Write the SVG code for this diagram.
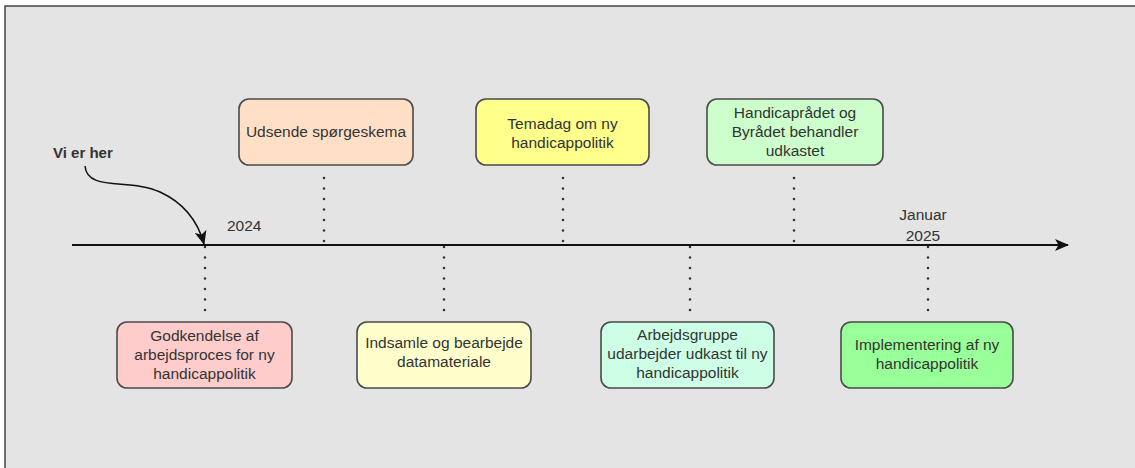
<svg xmlns="http://www.w3.org/2000/svg" width="1135" height="468" viewBox="0 0 1135 468">
  <defs>
    <marker id="arrow" viewBox="0 0 14 12" refX="13" refY="6" markerWidth="14" markerHeight="12" markerUnits="userSpaceOnUse" orient="auto">
      <path d="M0,0 L14,6 L0,12 L3.5,6 Z" fill="#111"/>
    </marker>
    <marker id="arrow2" viewBox="0 0 14 12" refX="13" refY="6" markerWidth="14" markerHeight="12" markerUnits="userSpaceOnUse" orient="auto">
      <path d="M0,0 L14,6 L0,12 L3.5,6 Z" fill="#111"/>
    </marker>
  </defs>
  <style>
    .box { stroke: #4a4a4a; stroke-width: 1.6; }
    .lbl { font-family: "Liberation Sans", Arial, sans-serif; font-size: 15.5px; fill: #333; text-anchor: middle; }
    .dot { fill: none; stroke: #333; stroke-width: 2.6; stroke-linecap: round; stroke-dasharray: 0 10.5; }
  </style>
  <rect x="0" y="0" width="1135" height="468" fill="#ffffff"/>
  <rect x="5" y="6" width="1140" height="470" fill="#e4e4e4" stroke="#444" stroke-width="1.5"/>

  <g id="connectors">
    <line x1="72" y1="245" x2="1068" y2="245" stroke="#111" stroke-width="1.8" marker-end="url(#arrow)"/>
    <path d="M85,166 C87,192 130,178 160,192 C184,203 198,222 204,244" fill="none" stroke="#111" stroke-width="1.5" marker-end="url(#arrow2)"/>
    <line class="dot" x1="324" y1="178" x2="324" y2="245"/>
    <line class="dot" x1="563" y1="178" x2="563" y2="245"/>
    <line class="dot" x1="794" y1="178" x2="794" y2="245"/>
    <line class="dot" x1="205" y1="247" x2="205" y2="312"/>
    <line class="dot" x1="444" y1="247" x2="444" y2="312"/>
    <line class="dot" x1="690" y1="247" x2="690" y2="312"/>
    <line class="dot" x1="928" y1="247" x2="928" y2="312"/>
  </g>

  <g id="label-vi-er-her">
    <text x="53" y="158" font-family="Liberation Sans, Arial, sans-serif" font-size="15" font-weight="bold" fill="#333">Vi er her</text>
  </g>
  <g id="label-2024">
    <text x="227" y="231" font-family="Liberation Sans, Arial, sans-serif" font-size="15.5" fill="#333">2024</text>
  </g>
  <g id="label-2025">
    <text class="lbl" x="923" y="220">Januar</text>
    <text class="lbl" x="923" y="241">2025</text>
  </g>

  <g id="node-udsende">
    <rect class="box" x="239" y="99" width="174" height="66" rx="10" fill="#ffe0c6"/>
    <text class="lbl" x="326" y="137">Udsende spørgeskema</text>
  </g>
  <g id="node-temadag">
    <rect class="box" x="476" y="99" width="173" height="66" rx="10" fill="#ffff8c"/>
    <text class="lbl" x="562.5" y="129">Temadag om ny</text>
    <text class="lbl" x="562.5" y="148">handicappolitik</text>
  </g>
  <g id="node-handicapraadet">
    <rect class="box" x="707" y="99" width="176" height="66" rx="10" fill="#ccffcc"/>
    <text class="lbl" x="795" y="118">Handicaprådet og</text>
    <text class="lbl" x="795" y="137">Byrådet behandler</text>
    <text class="lbl" x="795" y="156">udkastet</text>
  </g>
  <g id="node-godkendelse">
    <rect class="box" x="117" y="322" width="175" height="66" rx="10" fill="#ffcccc"/>
    <text class="lbl" x="204.5" y="341">Godkendelse af</text>
    <text class="lbl" x="204.5" y="360">arbejdsproces for ny</text>
    <text class="lbl" x="204.5" y="379">handicappolitik</text>
  </g>
  <g id="node-indsamle">
    <rect class="box" x="357" y="322" width="174" height="66" rx="10" fill="#ffffcc"/>
    <text class="lbl" x="444" y="348">Indsamle og bearbejde</text>
    <text class="lbl" x="444" y="367">datamateriale</text>
  </g>
  <g id="node-arbejdsgruppe">
    <rect class="box" x="601" y="322" width="173" height="66" rx="10" fill="#ccffe6"/>
    <text class="lbl" x="687.5" y="340">Arbejdsgruppe</text>
    <text class="lbl" x="687.5" y="359">udarbejder udkast til ny</text>
    <text class="lbl" x="687.5" y="378">handicappolitik</text>
  </g>
  <g id="node-implementering">
    <rect class="box" x="841" y="322" width="172" height="66" rx="10" fill="#99ff99"/>
    <text class="lbl" x="927" y="350">Implementering af ny</text>
    <text class="lbl" x="927" y="369">handicappolitik</text>
  </g>
</svg>
